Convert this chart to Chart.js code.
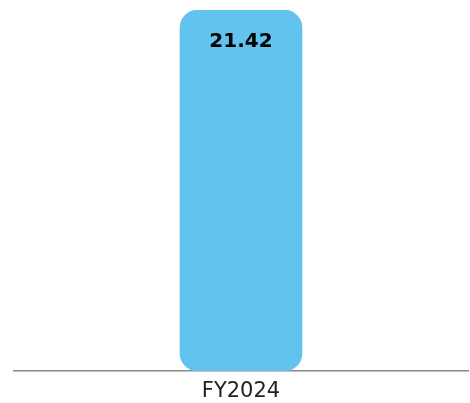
<!DOCTYPE html>
<html lang="en">
<head>
  <meta charset="UTF-8">
  <title>FY2024</title>
  <script src="https://cdn.jsdelivr.net/npm/chart.js@4"></script>
  <style>
    body {
      margin: 0;
      padding: 0;
      background-color: #ffffff;
    }

    #wrap {
      width: 470px;
      height: 403px;
      position: relative;
    }
  </style>
</head>
<body>

  <div id="wrap">
    <canvas id="chart"></canvas>
  </div>

  <script>
    // data
    const categories = ['FY2024'];
    const values = [21.42];
    const valueLabels = ['21.42'];

    // label inside the top of the bar
    const topLabels = {
      id: 'topLabels',
      afterDatasetsDraw(chart) {
        const ctx = chart.ctx;
        const meta = chart.getDatasetMeta(0);
        ctx.save();
        ctx.fillStyle = '#000000';
        ctx.font = 'bold 20px "DejaVu Sans", sans-serif';
        ctx.textAlign = 'center';
        ctx.textBaseline = 'middle';
        meta.data.forEach((bar, i) => {
          ctx.fillText(valueLabels[i], bar.x, bar.y + 32);
        });
        ctx.restore();
      }
    };

    const ctx = document.getElementById('chart').getContext('2d');
    new Chart(ctx, {
      type: 'bar',
      data: {
        labels: categories,
        datasets: [{
          data: values,
          backgroundColor: '#63C3EF',
          borderRadius: 18,
          borderSkipped: false,
          barThickness: 122
        }]
      },
      options: {
        responsive: true,
        maintainAspectRatio: false,
        animation: false,
        layout: {
          padding: { left: 14, right: 2, top: 10, bottom: 0 }
        },
        plugins: {
          legend: { display: false },
          tooltip: { enabled: false }
        },
        scales: {
          x: {
            grid: { display: false },
            border: { color: '#888888', width: 1.5 },
            afterFit: (scale) => { scale.height = 32; },
            ticks: {
              color: '#222222',
              padding: 0,
              font: { family: '"DejaVu Sans", sans-serif', size: 21 }
            }
          },
          y: {
            display: false,
            min: 0,
            max: 21.42
          }
        }
      },
      plugins: [topLabels]
    });
  </script>

</body>
</html>
